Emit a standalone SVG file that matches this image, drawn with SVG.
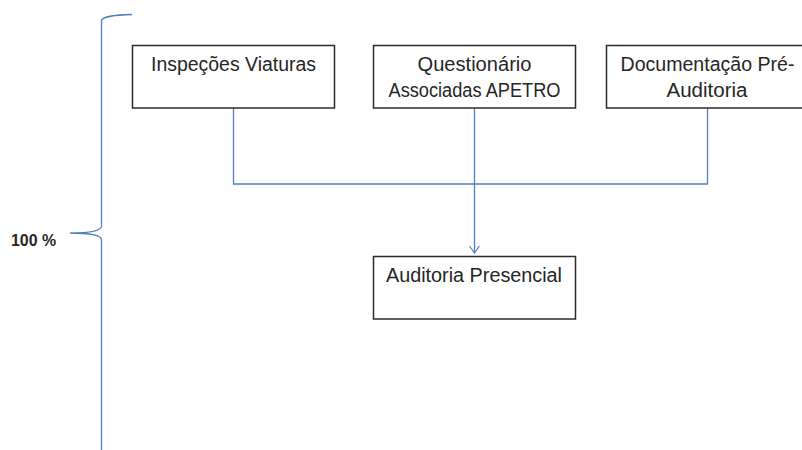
<svg xmlns="http://www.w3.org/2000/svg" width="802" height="450" viewBox="0 0 802 450">
<style>
.box{fill:#fff;stroke:#2b2b2b;stroke-width:1.5}
.t{font-family:"Liberation Sans",Arial,sans-serif;font-size:19.5px;fill:#262626;text-anchor:middle}
.c{fill:none;stroke:#4f81bd;stroke-width:1.3}
</style>
<defs>
<marker id="arr" markerWidth="12" markerHeight="12" refX="10" refY="6" orient="auto" markerUnits="userSpaceOnUse">
<path d="M3,1 L10,6 L3,11" fill="none" stroke="#4f81bd" stroke-width="1.2"/>
</marker>
</defs>
<g id="brace">
<path class="c" d="M132,14.5 C115,15 104,16 101.5,20 L101.5,226 C101.5,231 90,233 70,233 C90,233 101.5,235 101.5,240 L101.5,452"/>
<text x="11" y="246" style="font-family:'Liberation Sans',Arial,sans-serif;font-size:16px;font-weight:bold;fill:#262626" textLength="45" lengthAdjust="spacingAndGlyphs">100 %</text>
</g>
<g id="connectors">
<path class="c" d="M233.5,108 L233.5,184 L707.5,184 L707.5,108"/>
<path class="c" d="M474.5,108 L474.5,253" marker-end="url(#arr)"/>
</g>
<g id="n1">
<rect class="box" x="132.5" y="45.5" width="202" height="62.5"/>
<text class="t" x="233.5" y="71" textLength="165" lengthAdjust="spacingAndGlyphs">Inspeções Viaturas</text>
</g>
<g id="n2">
<rect class="box" x="373.5" y="45.5" width="202" height="62.5"/>
<text class="t" x="474.5" y="71" textLength="114" lengthAdjust="spacingAndGlyphs">Questionário</text>
<text class="t" x="474.5" y="96.5" textLength="172" lengthAdjust="spacingAndGlyphs">Associadas APETRO</text>
</g>
<g id="n3">
<rect class="box" x="606.5" y="45.5" width="202" height="62.5"/>
<text class="t" x="707.5" y="71" textLength="174" lengthAdjust="spacingAndGlyphs">Documentação Pré-</text>
<text class="t" x="707" y="96.5" textLength="81" lengthAdjust="spacingAndGlyphs">Auditoria</text>
</g>
<g id="n4">
<rect class="box" x="373.5" y="256.5" width="202" height="62.5"/>
<text class="t" x="474" y="282" textLength="176" lengthAdjust="spacingAndGlyphs">Auditoria Presencial</text>
</g>
</svg>
